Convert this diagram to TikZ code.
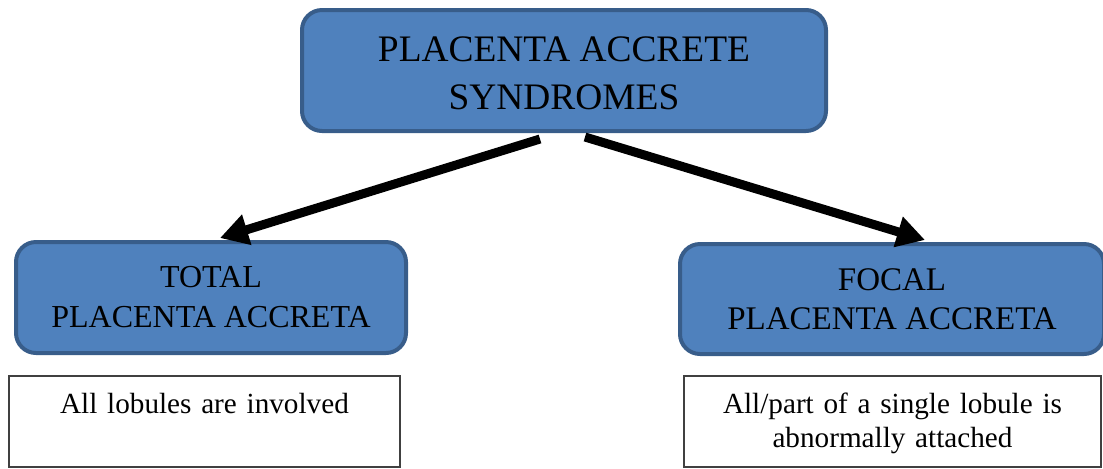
\documentclass[tikz,border=0pt]{standalone}
\usepackage{fontspec}
\setmainfont{Liberation Serif}
\usepackage{xcolor}
\usetikzlibrary{arrows.meta}
\definecolor{boite}{HTML}{4F81BD}
\definecolor{bord}{HTML}{385D8A}

\begin{document}
\begin{tikzpicture}[x=0.5pt,y=-0.5pt,
        bluebox/.style={draw=bord, fill=boite, line width=2pt, rounded corners=10pt, align=center, inner sep=0pt},
        notebox/.style={draw=black!75, fill=white, line width=0.8pt, align=center, inner sep=0pt, anchor=north, text height=19pt, text depth=26.5pt, font=\fontsize{14.6}{17}\selectfont},
        fleche/.style={line width=4.5pt, -{Triangle[length=14pt,width=15pt]}}]
        % Cadre
        \useasboundingbox (0,0) rectangle (1103,468);
        % Titre
        \node[bluebox, minimum width=262pt, minimum height=60.5pt, font=\fontsize{18.7}{24}\selectfont] (syndromes) at (564,70.5) {\rule{0pt}{15pt}PLACENTA ACCRETE\\SYNDROMES};
        % Deux formes
        \node[bluebox, minimum width=195pt, minimum height=55.5pt, font=\fontsize{16}{20}\selectfont] (total) at (211,297.5) {TOTAL\\PLACENTA ACCRETA};
        \node[bluebox, minimum width=212pt, minimum height=55pt, font=\fontsize{16.5}{19.5}\selectfont] (focal) at (892,299) {FOCAL\\PLACENTA ACCRETA};
        % Fleches
        \draw[fleche] ([xshift=-12pt,yshift=-3pt]syndromes.south) -- ([xshift=4.5pt,yshift=1pt]total.north);
        \draw[fleche] ([xshift=10.5pt,yshift=-2pt]syndromes.south) -- ([xshift=16.5pt,yshift=1pt]focal.north);
        % Descriptions
        \node[notebox, text width=195.5pt] (tousLobules) at (204.5,375) {All lobules are involved};
        \node[notebox, text width=208.5pt] (unLobule) at (892.5,375) {All/part of a single lobule is\\abnormally attached};
    \end{tikzpicture}
\end{document}
